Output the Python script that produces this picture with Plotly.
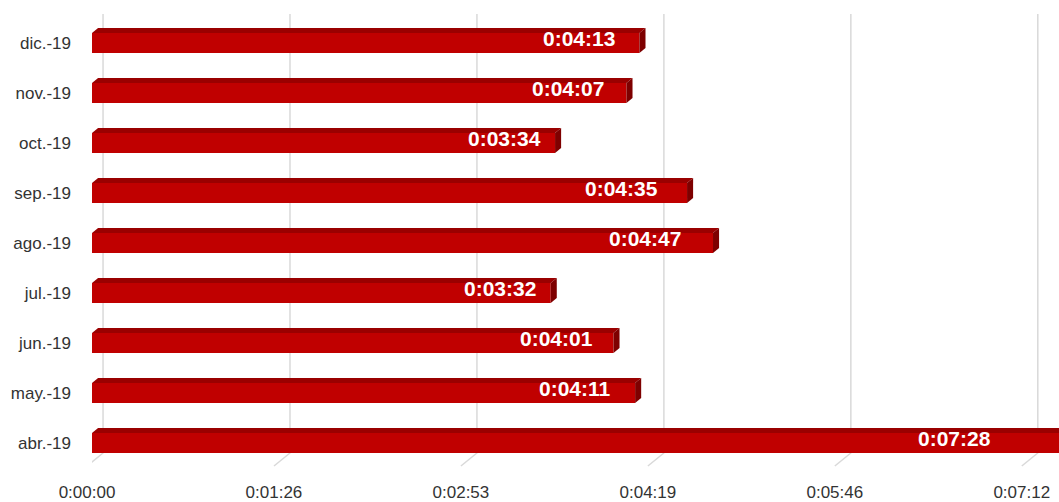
import plotly.graph_objects as go

# monthly average duration, in seconds (bottom to top)
months = ['abr.-19', 'may.-19', 'jun.-19', 'jul.-19', 'ago.-19',
          'sep.-19', 'oct.-19', 'nov.-19', 'dic.-19']
seconds = [448, 251, 241, 212, 287, 275, 214, 247, 253]
tick_secs = [0, 86.4, 172.8, 259.2, 345.6, 432]
tick_text = ['0:00:00', '0:01:26', '0:02:53', '0:04:19', '0:05:46', '0:07:12']


def hms(s):
    s = int(round(s))
    return '%d:%02d:%02d' % (s // 3600, (s % 3600) // 60, s % 60)


pos = list(range(len(months)))
bar_w = 0.4
dx = 2.8    # depth of the 3d look, in seconds
dy = 0.1    # depth in category units

fig = go.Figure()
fig.add_trace(go.Bar(
    x=seconds, y=pos, orientation='h', width=bar_w,
    marker=dict(color='#c00000', line=dict(width=0)),
    hoverinfo='skip'
))

shapes = []
# floor gridlines with a little slant at the bottom
for t in tick_secs:
    shapes.append(dict(
        type='path', xref='x', yref='y', layer='below',
        path='M %f,8.58 L %f,-0.2 L %f,-0.46' % (t + 5.1, t + 5.1, t - 2.3),
        line=dict(color='#d9d9d9', width=1.5)
    ))
# top and side faces of each bar
for p, v in zip(pos, seconds):
    top = p + bar_w / 2
    bot = p - bar_w / 2
    shapes.append(dict(
        type='path', xref='x', yref='y', line=dict(width=0),
        fillcolor='#9a0000',
        path='M 0,%f L %f,%f L %f,%f L %f,%f Z' % (
            top, dx, top + dy, v + dx, top + dy, v, top)
    ))
    shapes.append(dict(
        type='path', xref='x', yref='y', line=dict(width=0),
        fillcolor='#7e0000',
        path='M %f,%f L %f,%f L %f,%f L %f,%f Z' % (
            v, top, v + dx, top + dy, v + dx, bot + dy, v, bot)
    ))

annotations = []
for p, v in zip(pos, seconds):
    annotations.append(dict(
        x=v * 0.89, y=p, xref='x', yref='y', text=hms(v), showarrow=False,
        yshift=5, font=dict(family='Arial, Liberation Sans', size=21,
                            color='white', weight='bold')
    ))

fig.update_layout(
    width=1059, height=502,
    margin=dict(l=92, r=0, t=14, b=32),
    paper_bgcolor='white', plot_bgcolor='white',
    showlegend=False,
    shapes=shapes, annotations=annotations,
    font=dict(family='Arial, Liberation Sans', size=17, color='#333333'),
    xaxis=dict(range=[0, 446.9], tickvals=tick_secs, ticktext=tick_text,
               showgrid=False, zeroline=False, showline=False,
               ticklabelshift=-5, ticklabelstandoff=12),
    yaxis=dict(range=[-0.5, 8.58], tickvals=pos, ticktext=months,
               showgrid=False, zeroline=False, showline=False,
               ticklabelstandoff=20),
)

# drop the default body margin so the figure fills the window
fig.write_html('out.html', config={'displayModeBar': False},
               post_script="document.body.style.margin='0';")
